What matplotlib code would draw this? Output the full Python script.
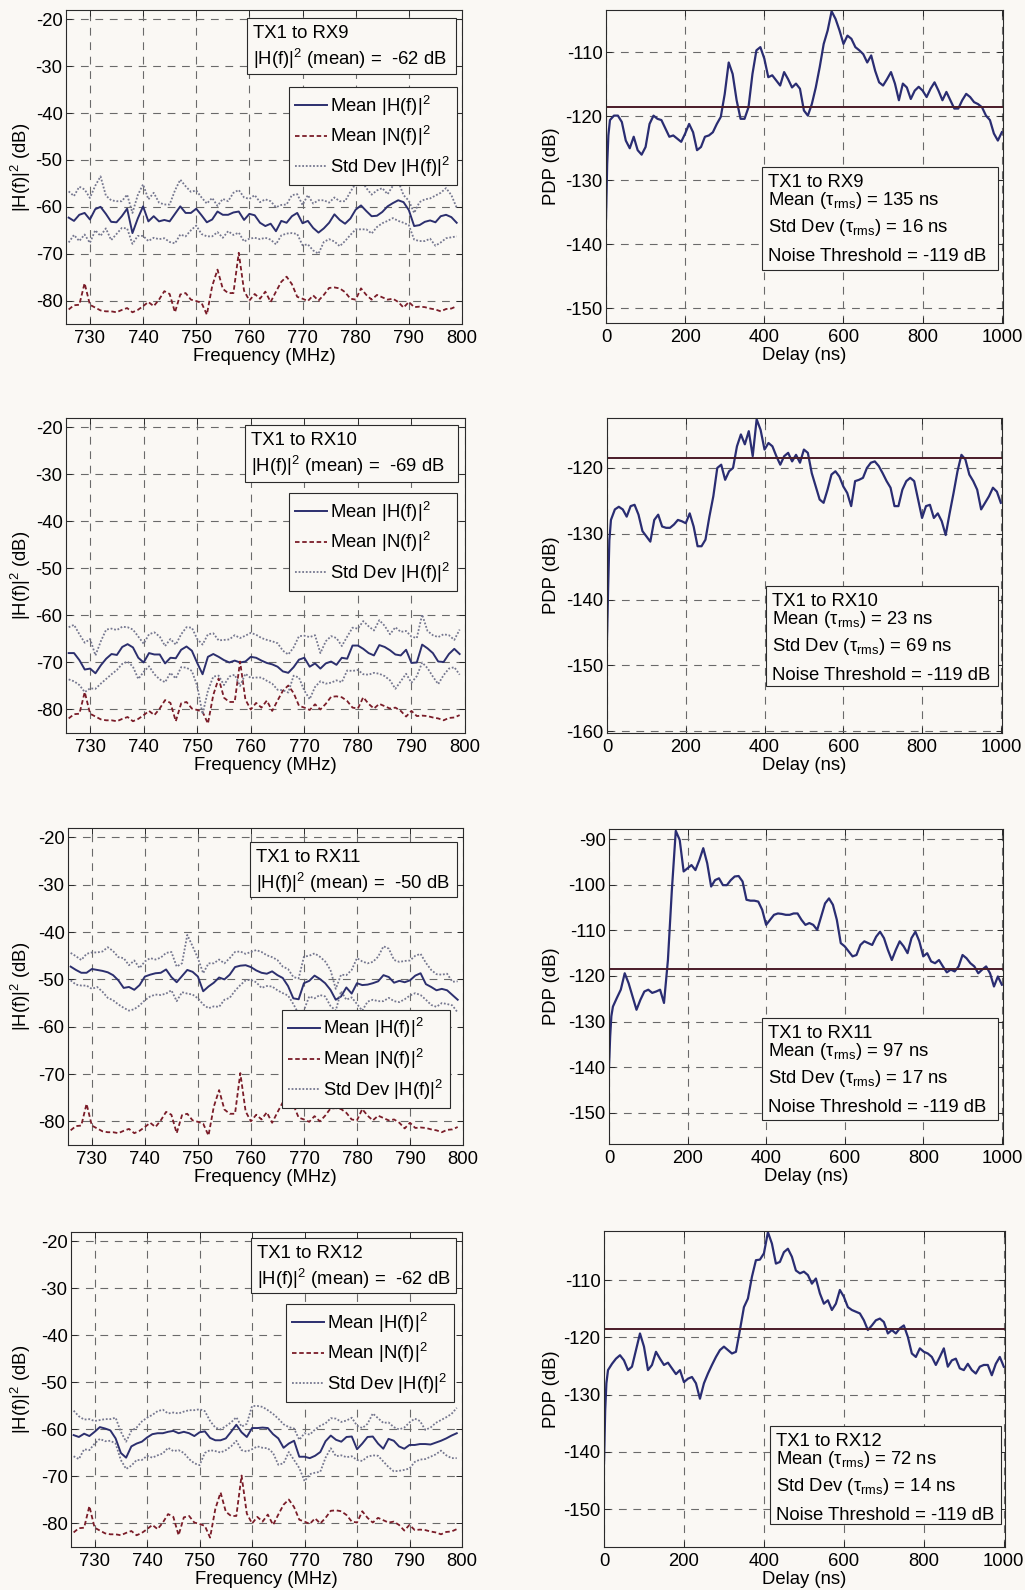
import numpy as np
import matplotlib
matplotlib.use("Agg")
import matplotlib.pyplot as plt
from matplotlib.patches import Rectangle

plt.rcParams['font.family'] = ['Liberation Sans', 'DejaVu Sans']
plt.rcParams['mathtext.fontset'] = 'custom'
plt.rcParams['mathtext.rm'] = 'Liberation Sans'
plt.rcParams['mathtext.it'] = 'Liberation Sans:italic'
plt.rcParams['mathtext.default'] = 'regular'
plt.rcParams['axes.unicode_minus'] = False
plt.rcParams['lines.solid_joinstyle'] = 'round'

# ---------------- data ----------------
freq = np.arange(726, 800)  # MHz

noise_mean = [
    -81.9, -81.0, -80.9, -76.3, -80.9, -81.5, -82.1, -82.3, -82.3, -82.5,
    -82.0, -81.6, -82.5, -82.0, -81.2, -80.3, -81.2, -79.8, -78.0, -78.6,
    -82.5, -78.7, -78.4, -79.8, -80.1, -80.5, -83.0, -76.9, -73.4, -77.5,
    -78.4, -78.4, -69.8, -77.9, -80.0, -78.6, -79.6, -78.1, -80.3, -78.1,
    -76.0, -74.9, -76.5, -79.2, -79.6, -80.1, -78.9, -80.0, -78.8, -77.3,
    -77.2, -77.4, -78.2, -79.6, -79.8, -77.4, -78.8, -79.8, -78.8, -79.3,
    -79.8, -79.6, -80.3, -81.5, -80.3, -81.4, -81.3, -81.4, -81.7, -81.9,
    -82.3, -81.8, -81.7, -81.2]

rx9_mean = [
    -62.3, -63.0, -61.7, -61.3, -62.7, -60.5, -60.0, -61.5, -63.2, -63.3,
    -62.0, -60.4, -65.6, -62.5, -59.9, -63.1, -62.0, -63.1, -62.8, -63.1,
    -61.5, -59.9, -61.3, -61.3, -60.4, -61.8, -63.3, -62.7, -61.0, -61.7,
    -61.7, -61.2, -61.0, -62.8, -61.5, -61.8, -63.4, -64.1, -63.6, -65.2,
    -63.0, -63.4, -62.0, -61.3, -63.5, -63.0, -64.5, -65.5, -64.6, -63.4,
    -61.6, -62.8, -63.6, -62.5, -60.6, -59.7, -60.9, -62.0, -61.9, -61.1,
    -59.9, -59.2, -58.6, -59.0, -60.7, -64.1, -63.9, -63.2, -62.9, -63.3,
    -62.0, -61.7, -62.2, -63.4]
rx9_std_hi = [
    -56.7, -57.7, -55.7, -56.3, -58.1, -55.5, -53.5, -57.6, -58.6, -58.8,
    -58.8, -57.4, -61.3, -57.5, -55.2, -58.4, -57.0, -59.1, -59.5, -59.5,
    -56.5, -54.2, -55.6, -56.8, -56.5, -58.0, -59.3, -58.1, -59.8, -58.3,
    -58.8, -57.0, -56.4, -58.0, -58.3, -57.5, -59.0, -58.4, -58.8, -60.1,
    -59.6, -59.5, -57.5, -57.3, -59.6, -57.5, -59.3, -58.6, -58.6, -59.1,
    -58.0, -58.8, -58.8, -56.8, -55.0, -54.2, -56.0, -57.4, -56.5, -56.0,
    -57.3, -55.5, -54.5, -57.5, -58.7, -61.3, -59.0, -58.4, -58.2, -57.6,
    -57.0, -56.0, -57.5, -60.2]
rx9_std_lo = [
    -67.6, -66.0, -67.3, -65.9, -67.7, -65.0, -66.2, -64.6, -67.1, -65.8,
    -64.5, -64.6, -67.9, -66.2, -66.2, -67.3, -66.6, -66.9, -66.7, -67.5,
    -67.8, -65.9, -66.3, -65.0, -64.0, -65.8, -66.3, -66.3, -65.4, -66.6,
    -65.2, -66.0, -65.5, -67.4, -66.8, -66.6, -66.9, -66.6, -67.0, -68.0,
    -66.1, -65.7, -65.6, -65.8, -68.2, -68.0, -69.3, -70.0, -67.5, -66.9,
    -67.4, -68.4, -67.3, -66.0, -64.8, -64.8, -64.8, -65.7, -64.3, -63.5,
    -63.0, -62.4, -63.0, -63.4, -63.9, -67.0, -67.3, -67.3, -66.8, -68.3,
    -67.6, -66.7, -66.5, -66.3]

rx10_mean = [
    -68.0, -68.0, -69.5, -71.5, -71.3, -72.3, -70.6, -69.2, -68.2, -68.4,
    -66.7, -66.1, -66.8, -69.0, -70.0, -68.0, -68.3, -68.3, -70.2, -69.0,
    -69.1, -67.3, -66.6, -67.5, -70.1, -72.5, -68.8, -68.2, -68.8, -69.5,
    -70.0, -69.6, -70.0, -69.8, -68.8, -69.0, -69.6, -70.1, -70.4, -70.9,
    -71.9, -72.2, -71.0, -69.4, -69.0, -70.9, -70.2, -71.3, -70.2, -69.8,
    -70.5, -69.0, -69.2, -66.4, -66.4, -67.1, -68.0, -68.5, -66.3, -66.7,
    -67.4, -68.3, -68.5, -67.3, -70.1, -70.0, -66.2, -67.0, -68.0, -69.8,
    -69.9, -68.2, -67.1, -68.2]
rx10_std_hi = [
    -62.5, -62.0, -64.0, -65.8, -65.0, -68.5, -65.5, -63.0, -62.8, -63.1,
    -62.4, -62.5, -63.0, -64.5, -66.0, -64.0, -63.6, -64.5, -66.5, -65.0,
    -66.2, -64.0, -62.5, -62.6, -65.0, -66.2, -64.0, -63.8, -65.3, -65.2,
    -65.1, -64.2, -64.8, -64.3, -63.7, -64.1, -64.8, -65.2, -65.5, -65.9,
    -67.5, -68.3, -66.8, -64.4, -64.3, -64.6, -64.2, -68.0, -65.5, -64.4,
    -64.8, -66.5, -64.5, -62.6, -62.8, -61.2, -62.3, -63.2, -61.0, -62.2,
    -64.0, -62.5, -63.5, -63.3, -64.5, -64.8, -59.8, -63.3, -64.2, -64.6,
    -64.0, -64.2, -65.2, -63.0]
rx10_std_lo = [
    -73.6, -74.0, -74.8, -76.3, -75.5, -75.6, -74.5, -73.5, -72.5, -71.6,
    -70.3, -69.8, -70.9, -73.5, -72.0, -70.8, -72.5, -73.6, -74.2, -72.2,
    -73.4, -71.0, -71.1, -71.8, -75.0, -81.0, -76.0, -73.0, -72.8, -74.8,
    -73.0, -72.6, -75.0, -72.4, -73.3, -73.2, -73.2, -73.9, -74.5, -75.8,
    -75.9, -76.4, -72.8, -73.2, -76.0, -77.8, -75.2, -74.0, -74.5, -74.3,
    -73.8, -74.2, -71.7, -71.8, -71.6, -72.5, -72.6, -72.2, -72.4, -72.9,
    -73.8, -75.6, -74.0, -72.4, -74.3, -72.9, -70.0, -71.2, -73.0, -74.6,
    -72.7, -71.3, -71.0, -72.6]

rx11_mean = [
    -47.3, -48.0, -48.6, -48.6, -47.8, -48.0, -48.2, -48.5, -49.1, -50.2,
    -51.8, -51.6, -52.2, -51.2, -49.4, -49.0, -48.7, -48.6, -47.9, -49.5,
    -50.6, -49.3, -48.0, -48.4, -49.4, -52.5, -51.5, -50.7, -49.6, -50.0,
    -49.0, -47.4, -47.1, -47.0, -47.4, -48.1, -48.6, -48.8, -48.3, -49.1,
    -49.7, -51.4, -54.0, -54.2, -50.8, -50.3, -49.2, -49.9, -50.8, -52.2,
    -54.3, -53.6, -51.7, -53.0, -50.8, -51.2, -51.1, -50.8, -50.4, -49.1,
    -49.5, -50.7, -50.3, -50.6, -50.2, -49.2, -48.7, -51.0, -51.6, -52.3,
    -52.0, -52.3, -53.3, -54.3]
rx11_std_hi = [
    -44.4, -45.1, -45.9, -44.6, -44.3, -44.3, -44.1, -43.2, -44.0, -45.3,
    -45.5, -47.0, -46.0, -47.6, -46.2, -45.5, -45.8, -45.4, -44.4, -44.2,
    -47.3, -46.6, -40.6, -43.0, -45.5, -48.7, -46.6, -46.6, -45.8, -46.6,
    -45.5, -44.2, -44.1, -44.6, -44.2, -43.8, -44.2, -44.9, -45.3, -45.9,
    -47.3, -47.8, -49.5, -49.8, -45.2, -45.0, -44.5, -45.2, -46.2, -48.0,
    -52.0, -49.0, -49.1, -48.0, -45.5, -46.2, -46.6, -46.3, -45.2, -43.0,
    -43.5, -45.9, -46.3, -46.1, -46.0, -45.0, -44.6, -46.5, -48.0, -48.9,
    -49.0, -48.8, -50.5, -50.4]
rx11_std_lo = [
    -50.2, -51.1, -51.3, -51.3, -52.0, -51.6, -52.6, -53.9, -54.4, -55.3,
    -56.0, -56.6, -56.3, -55.5, -54.4, -53.6, -53.2, -53.3, -53.0, -52.3,
    -54.6, -52.7, -53.0, -53.2, -54.0, -55.3, -56.1, -55.7, -55.8, -54.3,
    -53.9, -52.4, -51.2, -50.2, -50.1, -50.6, -51.8, -51.4, -51.5, -52.3,
    -52.9, -53.4, -55.2, -57.3, -56.5, -53.6, -54.0, -53.3, -53.6, -55.6,
    -56.6, -52.5, -54.3, -53.8, -55.2, -56.6, -54.7, -54.3, -54.6, -54.6,
    -53.9, -54.6, -54.8, -54.2, -53.4, -52.9, -53.3, -54.3, -55.4, -55.8,
    -55.0, -55.2, -55.5, -57.0]

rx12_mean = [
    -61.2, -61.6, -60.9, -61.4, -60.5, -59.5, -59.8, -60.2, -61.9, -65.0,
    -66.0, -63.6, -63.0, -62.6, -61.7, -61.0, -60.8, -60.8, -60.5, -60.3,
    -60.8, -60.5, -60.8, -61.4, -60.6, -60.4, -61.8, -62.3, -62.3, -61.9,
    -60.5, -59.0, -60.6, -61.6, -59.7, -59.7, -59.6, -59.7, -61.0, -61.9,
    -63.9, -63.0, -62.4, -65.8, -65.8, -66.1, -65.6, -64.8, -62.5, -61.3,
    -62.2, -62.6, -61.6, -61.5, -64.2, -63.0, -61.6, -61.5, -63.0, -64.1,
    -62.0, -62.4, -63.6, -64.1, -63.3, -63.3, -63.1, -63.1, -63.2, -62.8,
    -62.4, -61.9, -61.3, -60.8]
rx12_std_hi = [
    -56.0, -57.2, -57.9, -57.8, -58.2, -58.0, -57.8, -57.8, -57.5, -60.5,
    -62.6, -60.3, -59.6, -58.3, -57.5, -56.9, -56.1, -55.8, -56.6, -56.4,
    -56.6, -56.2, -55.9, -55.9, -55.7, -56.1, -58.2, -59.6, -60.0, -59.3,
    -58.5, -57.4, -59.4, -58.8, -55.0, -55.0, -55.2, -55.9, -56.7, -57.7,
    -58.9, -59.5, -59.8, -62.2, -60.8, -61.1, -60.0, -59.2, -58.7, -57.6,
    -57.7, -58.4, -58.1, -57.5, -59.2, -59.7, -58.8, -56.6, -57.6, -58.6,
    -58.5, -59.5, -60.0, -59.6, -58.5, -57.7, -58.2, -60.1, -59.6, -58.6,
    -58.0, -57.4, -56.7, -55.4]
rx12_std_lo = [
    -65.7, -66.3, -64.2, -64.4, -63.0, -62.0, -62.5, -62.4, -63.0, -66.5,
    -68.4, -67.7, -66.5, -66.5, -65.6, -66.0, -65.5, -65.1, -63.9, -64.6,
    -64.4, -65.0, -66.3, -67.2, -67.6, -65.0, -64.4, -64.6, -64.9, -64.4,
    -63.6, -62.4, -64.4, -64.7, -64.2, -63.6, -63.9, -64.0, -65.0, -67.5,
    -67.2, -64.8, -66.5, -68.2, -71.0, -69.5, -69.2, -69.0, -66.0, -64.0,
    -65.7, -65.5, -65.9, -65.7, -66.5, -66.7, -65.8, -65.5, -65.6, -66.8,
    -68.0, -68.9, -68.8, -68.6, -68.3, -66.9, -66.4, -66.3, -65.8, -65.3,
    -64.5, -65.5, -66.1, -66.1]

delay = np.concatenate([[0, 3, 6], np.arange(10, 1001, 10)])  # ns

pdp_rx9 = [
    -136.0, -127.5, -123.0,
    -120.6, -119.9, -119.9, -120.9, -123.8, -125.0, -123.2, -125.3, -126.0, -124.8,
    -121.2, -119.9, -120.4, -120.6, -121.9, -123.2, -123.0, -123.5, -124.0, -122.7,
    -121.2, -122.5, -125.3, -124.8, -123.2, -123.0, -122.5, -121.2, -120.1, -116.5,
    -111.6, -113.4, -117.5, -120.4, -120.4, -118.6, -113.4, -109.7, -109.2, -111.0,
    -113.9, -113.6, -114.4, -115.2, -113.1, -114.2, -115.5, -114.9, -115.7, -119.1,
    -119.9, -118.1, -115.5, -112.3, -108.7, -106.6, -103.6, -104.8, -106.6, -108.7,
    -107.4, -107.9, -109.2, -109.7, -110.3, -111.6, -110.5, -112.9, -114.7, -115.2,
    -114.2, -113.1, -114.9, -117.5, -114.9, -115.5, -117.3, -116.0, -115.4, -116.0,
    -117.0, -115.7, -114.7, -116.0, -117.5, -116.2, -117.5, -118.8, -118.8, -117.5,
    -116.5, -117.0, -117.8, -118.1, -118.6, -119.9, -120.6, -122.7, -123.8, -122.5]
pdp_rx10 = [
    -146.0, -138.0, -131.0,
    -127.9, -126.3, -125.9, -126.3, -127.4, -125.8, -125.6, -127.1, -129.6, -130.4,
    -131.2, -127.9, -127.1, -128.9, -129.1, -129.1, -128.6, -127.9, -128.1, -128.4,
    -126.9, -128.9, -131.9, -131.9, -130.9, -127.4, -124.3, -120.0, -119.5, -121.8,
    -120.5, -120.0, -116.7, -114.9, -116.4, -114.4, -118.2, -112.6, -114.2, -117.2,
    -116.2, -116.7, -118.2, -119.5, -118.2, -117.7, -119.0, -118.0, -119.2, -117.2,
    -117.7, -120.8, -122.8, -124.8, -125.3, -123.3, -121.0, -120.5, -121.3, -122.8,
    -123.8, -125.8, -122.0, -121.8, -121.5, -120.0, -119.2, -119.0, -119.7, -120.8,
    -122.0, -123.0, -125.8, -125.8, -123.3, -122.0, -121.5, -122.0, -124.8, -127.6,
    -125.8, -125.6, -127.6, -126.9, -128.1, -130.2, -126.9, -123.8, -120.5, -118.0,
    -118.7, -121.0, -122.0, -123.3, -126.3, -125.3, -124.3, -123.0, -123.6, -125.3]
pdp_rx11 = [
    -140.0, -133.2, -128.8,
    -126.7, -124.8, -123.0, -119.4, -121.6, -124.5, -127.4, -125.2, -123.4, -123.0,
    -123.7, -123.4, -123.0, -125.9, -116.5, -101.2, -88.2, -90.2, -97.1, -96.4,
    -95.7, -96.8, -94.6, -92.0, -95.3, -100.4, -99.0, -98.6, -100.1, -100.1,
    -99.0, -98.2, -98.1, -99.3, -103.3, -103.5, -103.5, -103.7, -105.5, -108.8,
    -107.7, -106.6, -106.3, -106.4, -106.6, -106.6, -106.3, -106.3, -107.7, -108.8,
    -108.4, -108.8, -109.9, -107.0, -104.1, -103.0, -104.4, -107.7, -112.8, -113.5,
    -114.6, -115.7, -115.4, -113.2, -112.4, -112.8, -113.2, -111.4, -110.3, -111.7,
    -114.3, -116.5, -114.3, -112.4, -113.5, -115.0, -111.7, -110.3, -112.4, -115.7,
    -115.0, -116.8, -117.2, -116.5, -117.9, -119.2, -118.6, -119.0, -117.9, -115.4,
    -116.1, -117.2, -117.9, -119.4, -118.6, -117.9, -119.4, -122.3, -120.1, -121.9]
pdp_rx12 = [
    -142.0, -132.7, -128.0,
    -125.7, -124.6, -123.7, -123.1, -124.0, -125.7, -125.1, -122.2, -119.3, -121.6,
    -125.7, -124.8, -122.5, -123.7, -124.8, -124.4, -125.4, -126.4, -125.7, -127.8,
    -127.2, -126.9, -128.0, -130.7, -128.0, -126.3, -124.8, -123.4, -122.2, -121.6,
    -122.2, -122.8, -122.5, -118.7, -114.7, -113.2, -109.4, -106.5, -106.4, -105.3,
    -101.6, -103.6, -107.1, -106.8, -105.1, -104.5, -105.9, -108.3, -108.8, -108.5,
    -109.1, -110.6, -109.7, -112.3, -114.1, -113.5, -115.2, -114.1, -111.7, -112.9,
    -114.7, -115.2, -115.5, -115.8, -117.0, -118.7, -117.9, -117.0, -116.7, -117.3,
    -119.3, -118.7, -119.3, -118.4, -117.9, -119.9, -122.8, -123.4, -121.9, -122.5,
    -122.8, -123.4, -124.8, -123.4, -121.9, -125.1, -124.0, -123.7, -125.4, -125.7,
    -124.6, -125.7, -126.3, -125.1, -124.8, -124.8, -126.6, -124.6, -123.4, -125.1]

links = ["TX1 to RX9", "TX1 to RX10", "TX1 to RX11", "TX1 to RX12"]
h_mean_db = [-62, -69, -50, -62]
tau_mean_ns = [135, 23, 97, 72]
tau_std_ns = [16, 69, 17, 14]
noise_thr_text = [-119, -119, -119, -119]
noise_thr_line = [-118.5, -118.5, -118.5, -118.5]

h_means = [rx9_mean, rx10_mean, rx11_mean, rx12_mean]
h_std_hi = [rx9_std_hi, rx10_std_hi, rx11_std_hi, rx12_std_hi]
h_std_lo = [rx9_std_lo, rx10_std_lo, rx11_std_lo, rx12_std_lo]
pdps = [pdp_rx9, pdp_rx10, pdp_rx11, pdp_rx12]

# ---------------- layout (pixels) ----------------
W, H = 1025, 1590
BG = '#faf8f4'
FS = 13.3
C_MEAN = '#2c2f6e'
C_NOISE = '#7a1c28'
C_STD = '#75778f'
C_PDP = '#2a2d72'
C_THR = '#4a1c28'

left_ax = [(66, 10, 462, 324), (66, 418, 465, 733), (68, 828, 463, 1145), (71, 1232, 462, 1547)]
left_box = [(247, 18, 456, 74), (245, 425, 458, 482), (250, 842, 457, 897), (251, 1238, 456, 1293)]
left_leg = [('upper right', 457, 87), ('upper right', 457, 493), ('lower right', 450, 1108),
            ('upper right', 454, 1304)]
right_ax = [(606, 10, 1003, 323), (607, 418, 1002, 733), (609, 829, 1003, 1144), (604, 1231, 1005, 1547)]
right_box = [(762, 167, 998, 270), (766, 586, 998, 686), (762, 1018, 998, 1120), (770, 1426, 1001, 1524)]
right_ylim = [(-152.3, -103.4), (-160.3, -112.4), (-156.8, -87.8), (-156.6, -101.4)]
right_yticks = [np.arange(-150, -109, 10), np.arange(-160, -119, 10),
                np.arange(-150, -89, 10), np.arange(-150, -109, 10)]

fig = plt.figure(figsize=(W / 100, H / 100), dpi=100, facecolor=BG)


def make_axes(b, ylabel_right_px):
    x0, y0, x1, y1 = b
    ax = fig.add_axes([x0 / W, 1 - y1 / H, (x1 - x0) / W, (y1 - y0) / H])
    ax.set_facecolor(BG)
    for s in ax.spines.values():
        s.set_color('#2a2a2a')
        s.set_linewidth(0.8)
    ax.tick_params(direction='in', top=True, right=True, length=4, width=0.7,
                   labelsize=FS, colors='#2a2a2a', labelcolor='black')
    ax.tick_params(axis='x', pad=4)
    ax.tick_params(axis='y', pad=2.5)
    ax.grid(True, color='#6a6a6a', lw=0.8, linestyle=(0, (7, 6)))
    ax.yaxis.set_label_coords((ylabel_right_px - x0) / (x1 - x0), 0.5)
    ax.xaxis.set_label_coords(0.5, -24 / (y1 - y0))
    return ax


def add_box(b):
    x0, y0, x1, y1 = b
    r = Rectangle((x0 / W, 1 - y1 / H), (x1 - x0) / W, (y1 - y0) / H,
                  transform=fig.transFigure, facecolor=BG, edgecolor='#2a2a2a',
                  lw=0.8, zorder=10)
    fig.add_artist(r)


def add_line(x, y, s):
    fig.text(x / W, 1 - y / H, s, fontsize=FS, va='baseline', ha='left', zorder=11)


for i in range(4):
    # ---- left: frequency response ----
    ax = make_axes(left_ax[i], 33)
    ax.plot(freq, h_means[i], color=C_MEAN, lw=1.4, label='Mean |H(f)|$^2$')
    ax.plot(freq, noise_mean, color=C_NOISE, lw=1.3, linestyle=(0, (2.5, 1.5)),
            label='Mean |N(f)|$^2$')
    ax.plot(freq, h_std_hi[i], color=C_STD, lw=1.3, linestyle=(0, (1, 1)),
            label='Std Dev |H(f)|$^2$')
    ax.plot(freq, h_std_lo[i], color=C_STD, lw=1.3, linestyle=(0, (1, 1)))
    ax.set_xlim(725.5, 800)
    ax.set_ylim(-85, -18)
    ax.set_xticks(np.arange(730, 801, 10))
    ax.set_yticks(np.arange(-80, -19, 10))
    ax.set_xlabel('Frequency (MHz)', fontsize=FS)
    ax.set_ylabel('|H(f)|$^2$ (dB)', fontsize=FS)
    loc, lx, ly = left_leg[i]
    leg = ax.legend(loc=loc, bbox_to_anchor=(lx / W, 1 - ly / H), bbox_transform=fig.transFigure,
                    fontsize=FS, frameon=True, fancybox=False, framealpha=1,
                    facecolor=BG, edgecolor='#2a2a2a', handlelength=1.7,
                    handletextpad=0.2, labelspacing=0.35, borderpad=0.35,
                    borderaxespad=0)
    leg.get_frame().set_linewidth(0.8)
    bx0, by0, bx1, by1 = left_box[i]
    add_box(left_box[i])
    add_line(bx0 + 6, by0 + 20, links[i])
    add_line(bx0 + 6, by0 + 47, '|H(f)|$^2$ (mean) =  %d dB' % h_mean_db[i])

    # ---- right: power delay profile ----
    ax = make_axes(right_ax[i], 560)
    ax.plot(delay, pdps[i], color=C_PDP, lw=1.6)
    ax.axhline(noise_thr_line[i], color=C_THR, lw=1.4)
    ax.set_xlim(0, 1003)
    ax.set_ylim(*right_ylim[i])
    ax.set_xticks(np.arange(0, 1001, 200))
    ax.set_yticks(right_yticks[i])
    ax.set_xlabel('Delay (ns)', fontsize=FS)
    ax.set_ylabel('PDP (dB)', fontsize=FS)
    bx0, by0, bx1, by1 = right_box[i]
    add_box(right_box[i])
    add_line(bx0 + 6, by0 + 20, links[i])
    add_line(bx0 + 6, by0 + 38, 'Mean (τ$_{rms}$) = %d ns' % tau_mean_ns[i])
    add_line(bx0 + 6, by0 + 65, 'Std Dev (τ$_{rms}$) = %d ns' % tau_std_ns[i])
    add_line(bx0 + 6, by0 + 94, 'Noise Threshold = %d dB' % noise_thr_text[i])

fig.savefig('out.png', dpi=100, facecolor=BG)
